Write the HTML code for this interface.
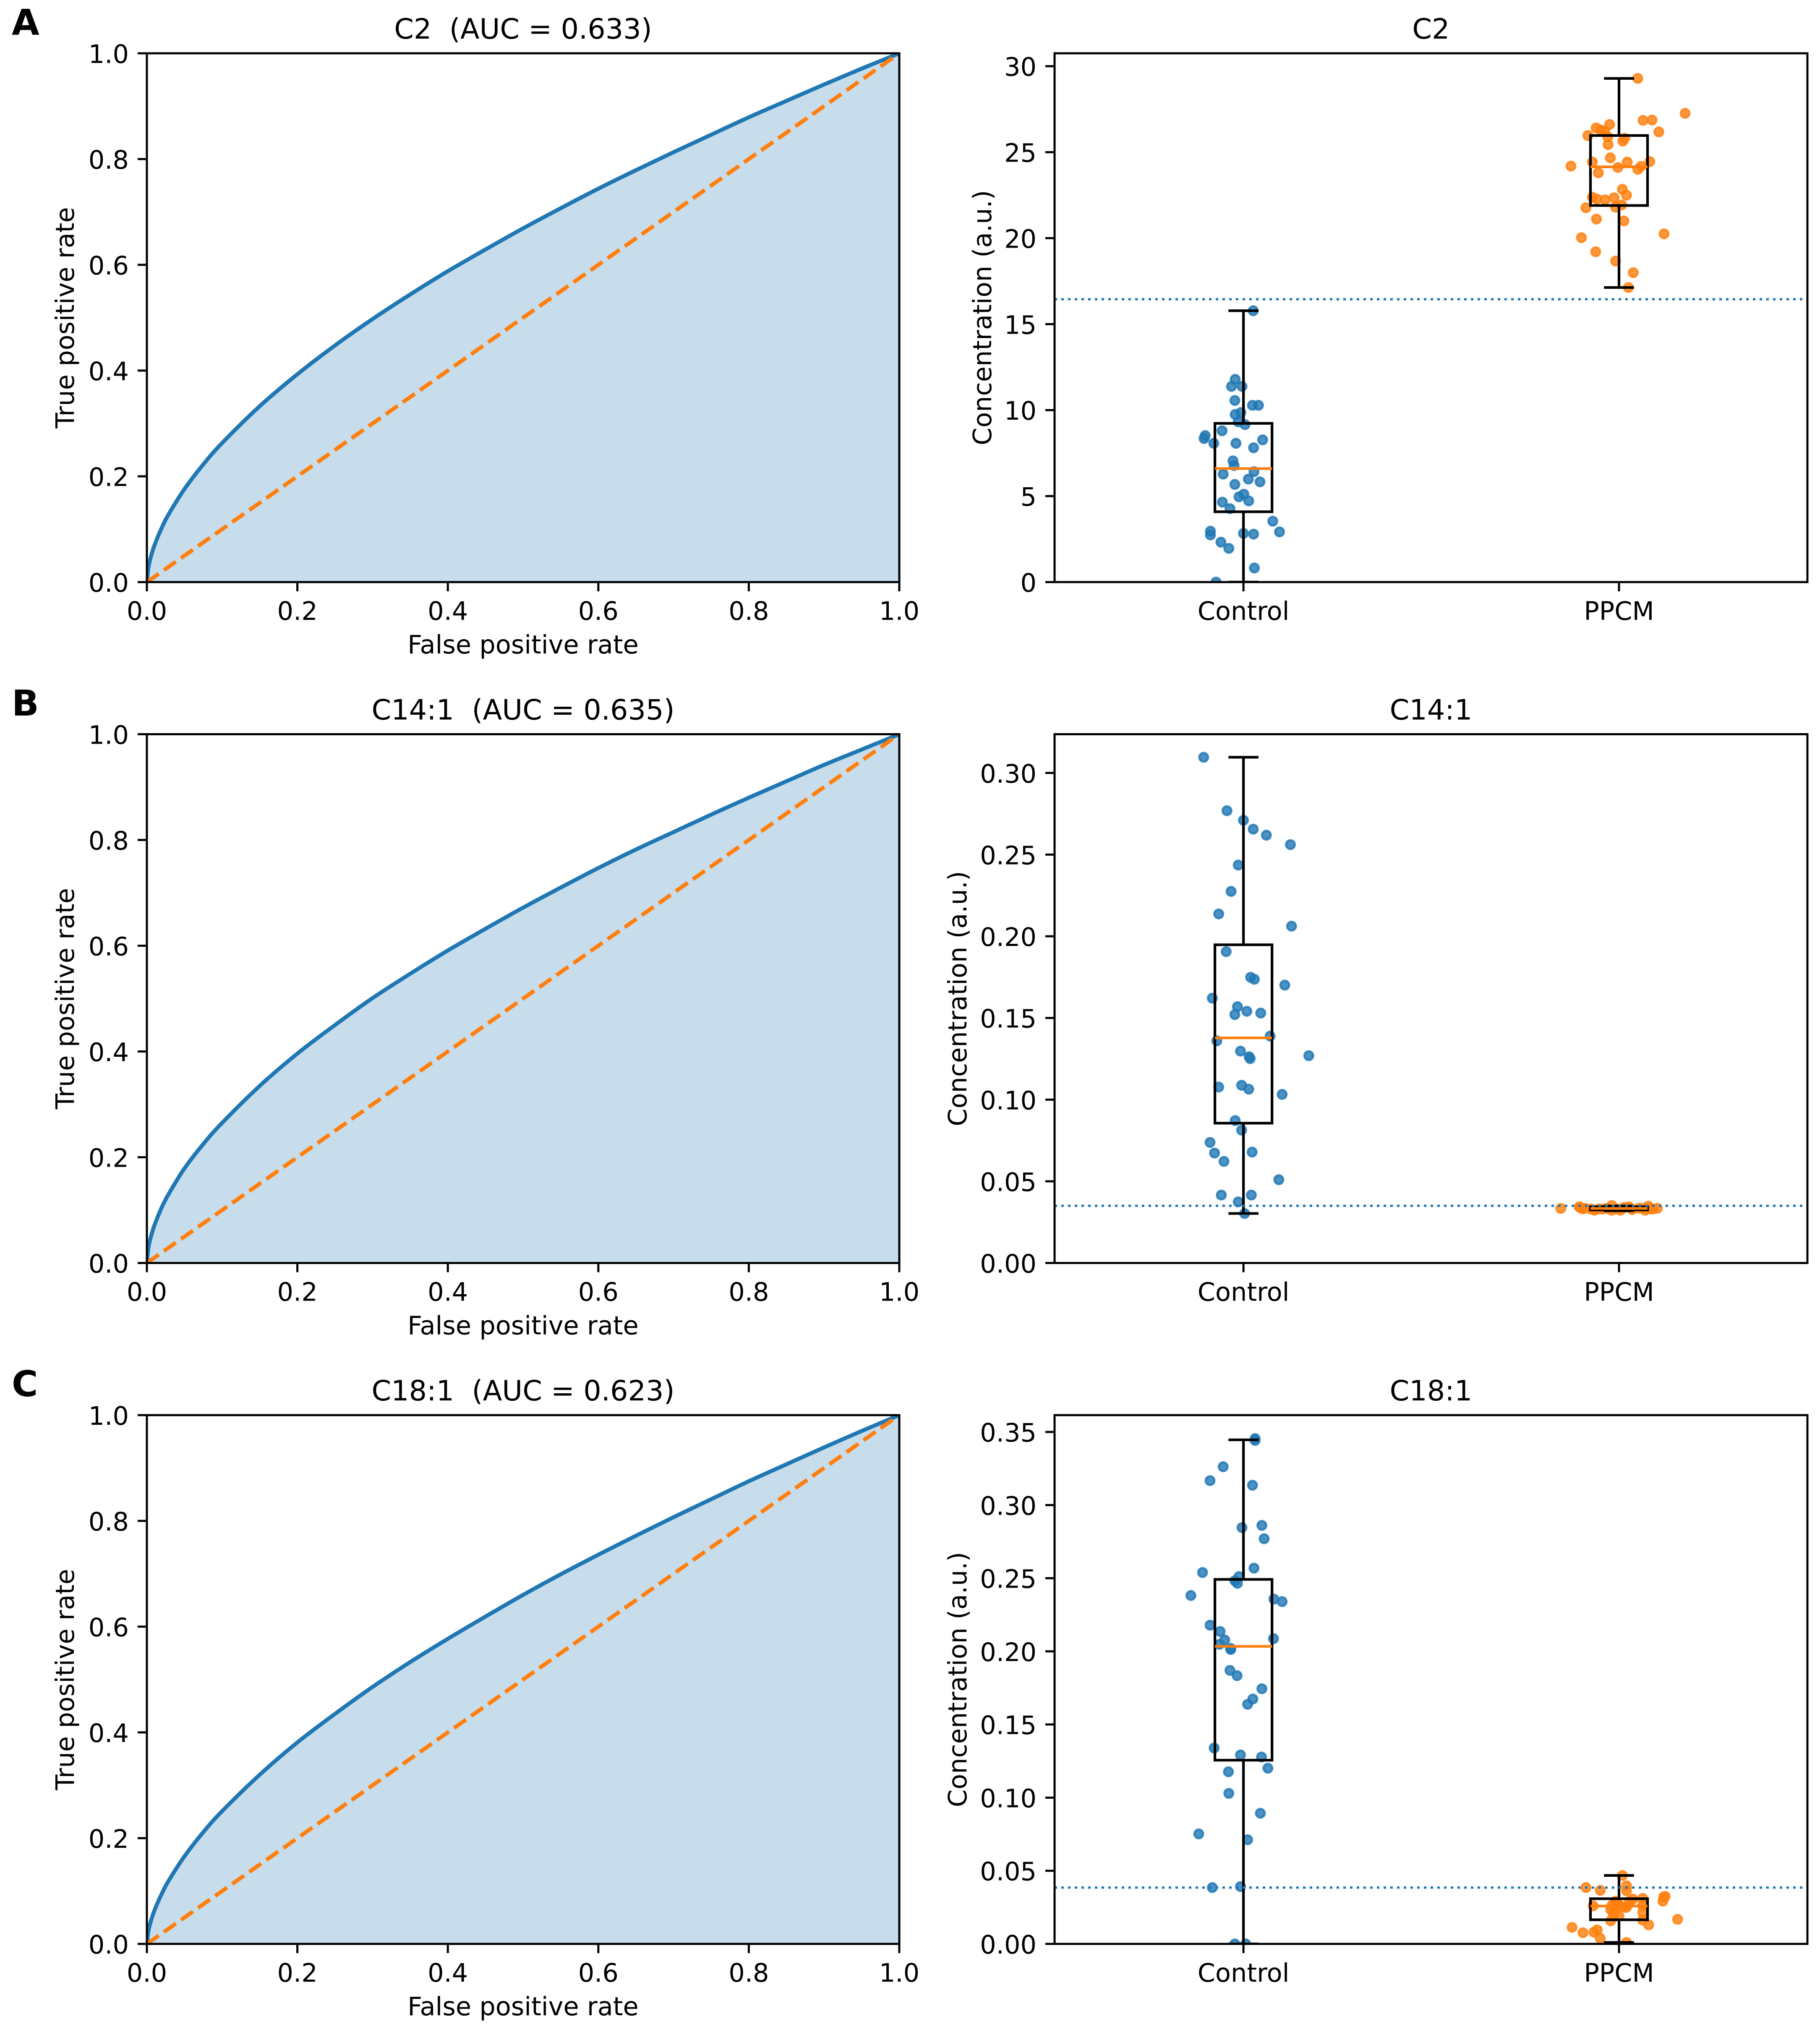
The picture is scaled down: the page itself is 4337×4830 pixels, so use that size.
<!DOCTYPE html>
<html lang="en">
<head>
<meta charset="utf-8">
<title>ROC curves and concentration box plots</title>
<style>
html,body{margin:0;padding:0;background:#fff;}
svg{display:block;}
text{font-family:"DejaVu Sans","Liberation Sans",sans-serif;fill:#000;white-space:pre;}
</style>
</head>
<body>
<svg id="figure" xmlns="http://www.w3.org/2000/svg" width="4337" height="4830" viewBox="0 0 4337 4830">
<rect x="0" y="0" width="4337" height="4830" fill="#fff"/>
<text x="28" y="83" font-size="85" font-weight="700">A</text>
<text x="28" y="1705" font-size="85" font-weight="700">B</text>
<text x="28" y="3327" font-size="85" font-weight="700">C</text>
</svg>
<script>
// ---- ROC values ----
const rocFpr = [0,.002,.005,.01,.02,.03,.05,.075,.1,.15,.2,.25,.3,.35,.4,.45,.5,.55,.6,.65,.7,.75,.8,.85,.9,.95,1];
const rocTprC2 = [0,.0272,.0463,.0692,.1034,.1308,.176,.2226,.263,.3327,.393,.4475,.4975,.544,.588,.629,.669,.707,.744,.779,.813,.846,.879,.91,.941,.971,1];
const rocTprC14 = [0,.0285,.048,.071,.106,.133,.179,.225,.265,.335,.396,.45,.501,.547,.591,.632,.672,.71,.747,.782,.815,.848,.88,.911,.942,.971,1];
const rocTprC18 = [0,.024,.0416,.063,.0956,.122,.1657,.2114,.251,.32,.381,.435,.486,.533,.577,.619,.66,.699,.736,.772,.807,.841,.875,.907,.939,.97,1];
const rocTickLabels = ["0.0","0.2","0.4","0.6","0.8","1.0"];
const categories = ["Control","PPCM"];

// ---- C2 concentrations ----
const c2ControlJitter = [.026,-.022,-.032,-.004,-.023,.024,.04,-.007,-.022,-.014,.004,-.057,-.102,-.105,-.079,-.02,.051,.027,-.028,-.025,.028,-.054,.013,.044,-.023,.001,-.012,.014,-.056,-.036,.078,.096,-.088,-.088,0,.027,-.06,-.039,.029,-.073];
const c2ControlValues = [15.78,11.79,11.38,11.38,10.56,10.28,10.28,9.86,9.75,9.32,9.16,8.8,8.52,8.35,8.07,8.07,8.27,7.81,7.05,6.78,6.42,6.28,5.99,5.83,5.68,5.11,4.96,4.72,4.65,4.27,3.54,2.92,2.96,2.74,2.83,2.79,2.32,1.96,.82,0];
const c2PpcmJitter = [.05,.176,.064,.088,-.025,-.061,-.048,-.038,.106,-.083,-.03,.015,.01,-.029,-.023,-.071,.022,.082,.059,-.128,-.003,.05,-.055,.009,.02,-.071,-.059,-.037,-.013,.007,-.088,-.009,-.06,.013,.12,-.1,-.062,-.009,.038,.025];
const c2PpcmValues = [29.29,27.26,26.85,26.87,26.61,26.41,26.29,26.24,26.18,25.97,25.89,25.81,25.64,25.44,24.67,24.43,24.43,24.45,24.18,24.19,24.11,24,23.8,22.84,22.5,22.38,22.28,22.23,22.35,21.93,21.77,21.8,21.11,21,20.25,20.03,19.21,18.67,17.99,17.13];
const c2ControlBox = [0,4.09,6.6,9.23,15.78];
const c2PpcmBox = [17.13,21.9,24.15,25.97,29.29];
const c2Threshold = 16.45;
const c2YMax = 30.75;
const c2TickLabels = ["0","5","10","15","20","25","30"];

// ---- C14:1 concentrations ----
const c14ControlJitter = [-.106,-.044,0,.026,.061,.125,-.014,-.033,-.066,.128,-.046,.019,.029,.11,-.083,-.016,.009,.046,-.023,.071,-.071,-.008,.015,.018,.174,-.066,-.005,.014,.103,-.022,-.005,-.089,-.077,.023,-.052,.094,-.059,.021,-.014,.003];
const c14ControlValues = [.3096,.2769,.271,.2656,.2619,.2561,.2436,.2275,.2137,.2062,.1906,.1749,.1737,.1701,.1621,.1569,.1541,.153,.1521,.1389,.136,.1297,.1263,.1251,.1269,.1077,.1088,.1064,.1032,.0872,.0813,.0738,.0673,.0679,.0622,.051,.0416,.0416,.0374,.0303];
const c14PpcmJitter = [-.155,-.106,-.104,-.097,-.091,-.076,-.066,-.054,-.043,-.032,-.02,-.019,-.007,.004,.013,.026,.035,.052,.063,.069,.078,.084,.091,.102];
const c14PpcmValues = [.0334,.0344,.034,.0331,.0335,.0331,.0323,.0331,.0331,.0335,.0323,.0352,.0331,.0323,.034,.0344,.0327,.0335,.0335,.0323,.0348,.0331,.0331,.0335];
const c14ControlBox = [.0303,.0856,.1378,.1948,.3096];
const c14PpcmBox = [.032,.0325,.0334,.0344,.0349];
const c14Threshold = .035;
const c14YMax = .3237;
const c14TickLabels = ["0.00","0.05","0.10","0.15","0.20","0.25","0.30"];

// ---- C18:1 concentrations ----
const c18ControlJitter = [.031,.031,-.054,-.089,.024,-.004,.049,.055,.028,-.109,-.012,-.023,-.016,-.14,.081,.103,-.089,-.062,-.05,-.064,.08,-.034,-.034,-.036,-.017,.049,.025,.011,-.078,-.008,.048,.065,-.04,-.039,.045,-.119,.011,-.083,-.008,-.023,.006];
const c18ControlValues = [.3455,.3442,.3262,.3167,.3136,.2846,.2861,.277,.2569,.2539,.2511,.2483,.2465,.2382,.2357,.234,.2179,.2136,.2078,.2048,.2087,.202,.2013,.187,.1834,.1744,.1674,.1638,.1339,.1292,.1278,.1201,.1177,.1029,.0893,.0752,.0712,.0385,.0392,0,0];
const c18PpcmJitter = [.009,.02,.02,-.088,-.05,.037,.063,.119,.123,.117,-.069,-.019,-.002,.02,.019,.063,.063,-.022,-.013,-.015,0,-.022,.063,.079,.156,-.125,-.096,-.067,-.058,-.05,.02,.006,-.009,.028];
const c18PpcmValues = [.0468,.0397,.0363,.0385,.0366,.0306,.0311,.0321,.0325,.0292,.026,.0263,.0273,.0254,.0249,.0263,.0216,.0235,.0225,.0197,.0192,.0158,.0163,.013,.0168,.0113,.0077,.008,.0096,.0038,.001,.0254,.0292,.0292];
const c18ControlBox = [0,.1256,.2034,.2492,.3446];
const c18PpcmBox = [.001,.0165,.0259,.0309,.0468];
const c18Threshold = .0385;
const c18YMax = .3615;
const c18TickLabels = ["0.00","0.05","0.10","0.15","0.20","0.25","0.30","0.35"];

const NS = "http://www.w3.org/2000/svg";
const figure = document.getElementById("figure");
const PLOT_H = 1260, ROC_LEFT = 350, ROC_W = 1793, DIST_LEFT = 2513, DIST_W = 1794;
const FONT = 60.5, TITLE_FONT = 66.8, SPINE = 5, TICK = 22;
const X_MIN = 0.497, X_MAX = 2.5017;
const BLUE = "#1f77b4", ORANGE = "#ff7f0e";

function rowTop(row){ return 127 + row * 1622.5; }

function make(parent, tag, attrs){
  const node = document.createElementNS(NS, tag);
  for (const key in attrs) node.setAttribute(key, attrs[key]);
  parent.appendChild(node);
  return node;
}

function smoothPath(pts){
  let d = "M" + pts[0][0].toFixed(1) + " " + pts[0][1].toFixed(1);
  for (let i = 0; i < pts.length - 1; i++) {
    const p0 = pts[Math.max(i-1,0)], p1 = pts[i], p2 = pts[i+1], p3 = pts[Math.min(i+2,pts.length-1)];
    const c1x = p1[0] + (p2[0]-p0[0])/6, c1y = p1[1] + (p2[1]-p0[1])/6;
    const c2x = p2[0] - (p3[0]-p1[0])/6, c2y = p2[1] - (p3[1]-p1[1])/6;
    d += " C" + c1x.toFixed(1) + " " + c1y.toFixed(1) + " " + c2x.toFixed(1) + " " + c2y.toFixed(1) + " " + p2[0].toFixed(1) + " " + p2[1].toFixed(1);
  }
  return d;
}

function drawFrame(g, left, top, w, h){
  const frame = make(g, "rect", {x:left, y:top, width:w, height:h, fill:"none", stroke:"#000", "stroke-width":SPINE});
  
  
}

function drawYTick(g, left, y, label){
  const tick = make(g, "line", {x1:left-TICK, x2:left, y1:y, y2:y, stroke:"#000", "stroke-width":SPINE});
  
  
  const text = make(g, "text", {x:left-43, y:y+23, "font-size":FONT, "text-anchor":"end"});
  text.textContent = label;
  
  
}

function drawXTick(g, x, bottom, label){
  const tick = make(g, "line", {x1:x, x2:x, y1:bottom, y2:bottom+TICK, stroke:"#000", "stroke-width":SPINE});
  
  
  const text = make(g, "text", {x:x, y:bottom+90, "font-size":FONT, "text-anchor":"middle"});
  text.textContent = label;
  
  
}

function drawTitle(g, x, top, label){
  const text = make(g, "text", {x:x, y:top-35, "font-size":TITLE_FONT, "text-anchor":"middle"});
  text.textContent = label;
  
  
}

function drawYLabel(g, x, y, label){
  const text = make(g, "text", {x:x, y:y, "font-size":FONT, "text-anchor":"middle", transform:"rotate(-90 "+x+" "+y+")"});
  text.textContent = label;
  
  
}

function drawRocPanel(row, title, tpr){
  const top = rowTop(row), bottom = top + PLOT_H;
  const xScale = v => ROC_LEFT + v * ROC_W;
  const yScale = v => bottom - v * PLOT_H;

  const g = make(figure, "g", {});
  
  

  const clip = make(g, "clipPath", {id:"clip-roc-"+row});
  make(clip, "rect", {x:ROC_LEFT, y:top, width:ROC_W, height:PLOT_H});

  const curve = smoothPath(rocFpr.map((f,i) => [xScale(f), yScale(tpr[i])]));

  const area = make(g, "path", {d:curve+" L"+xScale(1)+" "+yScale(0)+" L"+xScale(0)+" "+yScale(0)+" Z", fill:BLUE, "fill-opacity":0.25, stroke:"none", "clip-path":"url(#clip-roc-"+row+")"});
  
  

  const line = make(g, "path", {d:curve, fill:"none", stroke:BLUE, "stroke-width":9.4, "clip-path":"url(#clip-roc-"+row+")"});
  
  

  const chance = make(g, "line", {x1:xScale(0), y1:yScale(0), x2:xScale(1), y2:yScale(1), stroke:ORANGE, "stroke-width":9.4, "stroke-dasharray":"34.7 15", "clip-path":"url(#clip-roc-"+row+")"});
  
  

  rocTickLabels.forEach(label => {
    drawYTick(g, ROC_LEFT, yScale(Number(label)), label);
    drawXTick(g, xScale(Number(label)), bottom, label);
  });
  drawFrame(g, ROC_LEFT, top, ROC_W, PLOT_H);
  drawTitle(g, ROC_LEFT + ROC_W/2, top, title);
  drawYLabel(g, 176, top + PLOT_H/2, "True positive rate");
  const xTitle = make(g, "text", {x:ROC_LEFT + ROC_W/2, y:bottom+170, "font-size":FONT, "text-anchor":"middle"});
  xTitle.textContent = "False positive rate";
  
  
}

function drawPoints(g, center, jitter, values, color, xScale, yScale, clipId){
  values.forEach((v,i) => {
    const dot = make(g, "circle", {cx:xScale(center + jitter[i]).toFixed(1), cy:yScale(v).toFixed(1), r:10.5, fill:color, "fill-opacity":0.8, stroke:color, "stroke-opacity":0.8, "stroke-width":5, "clip-path":"url(#"+clipId+")"});
    
    
  });
}

function drawBox(g, center, stats, xScale, yScale, clipId){
  const [low, q1, median, q3, high] = stats;
  const boxL = xScale(center - 0.076), boxR = xScale(center + 0.076);
  const capL = xScale(center - 0.04), capR = xScale(center + 0.04);
  const box = make(g, "g", {fill:"none", stroke:"#000", "stroke-width":6.25, "clip-path":"url(#"+clipId+")"});
  
  

  const whiskerLow = make(box, "line", {x1:xScale(center), x2:xScale(center), y1:yScale(low), y2:yScale(q1)});
  
  
  const whiskerHigh = make(box, "line", {x1:xScale(center), x2:xScale(center), y1:yScale(q3), y2:yScale(high)});
  
  
  const capLow = make(box, "line", {x1:capL, x2:capR, y1:yScale(low), y2:yScale(low)});
  
  
  const capHigh = make(box, "line", {x1:capL, x2:capR, y1:yScale(high), y2:yScale(high)});
  
  
  const rect = make(box, "rect", {x:boxL, y:yScale(q3), width:boxR-boxL, height:yScale(q1)-yScale(q3)});
  
  
  const med = make(box, "line", {x1:boxL, x2:boxR, y1:yScale(median), y2:yScale(median), stroke:ORANGE});
  
  
}

function drawDistPanel(row, title, yMax, tickLabels, threshold, controlJitter, controlValues, controlBox, ppcmJitter, ppcmValues, ppcmBox, yTitleX){
  const top = rowTop(row), bottom = top + PLOT_H;
  const xScale = v => DIST_LEFT + (v - X_MIN) / (X_MAX - X_MIN) * DIST_W;
  const yScale = v => bottom - v / yMax * PLOT_H;
  const clipId = "clip-dist-" + row;

  const g = make(figure, "g", {});
  
  

  const clip = make(g, "clipPath", {id:clipId});
  make(clip, "rect", {x:DIST_LEFT, y:top, width:DIST_W, height:PLOT_H});

  drawPoints(g, 1, controlJitter, controlValues, BLUE, xScale, yScale, clipId);
  drawPoints(g, 2, ppcmJitter, ppcmValues, ORANGE, xScale, yScale, clipId);
  drawBox(g, 1, controlBox, xScale, yScale, clipId);
  drawBox(g, 2, ppcmBox, xScale, yScale, clipId);

  const cut = make(g, "line", {x1:DIST_LEFT, x2:DIST_LEFT+DIST_W, y1:yScale(threshold), y2:yScale(threshold), stroke:BLUE, "stroke-width":5.5, "stroke-dasharray":"6 10"});
  
  

  tickLabels.forEach(label => drawYTick(g, DIST_LEFT, yScale(Number(label)), label));
  categories.forEach((label,i) => drawXTick(g, xScale(i+1), bottom, label));
  drawFrame(g, DIST_LEFT, top, DIST_W, PLOT_H);
  drawTitle(g, DIST_LEFT + DIST_W/2, top, title);
  drawYLabel(g, yTitleX, top + PLOT_H/2, "Concentration (a.u.)");
}

drawRocPanel(0, "C2  (AUC = 0.633)", rocTprC2);
drawRocPanel(1, "C14:1  (AUC = 0.635)", rocTprC14);
drawRocPanel(2, "C18:1  (AUC = 0.623)", rocTprC18);
drawDistPanel(0, "C2", c2YMax, c2TickLabels, c2Threshold, c2ControlJitter, c2ControlValues, c2ControlBox, c2PpcmJitter, c2PpcmValues, c2PpcmBox, 2362);
drawDistPanel(1, "C14:1", c14YMax, c14TickLabels, c14Threshold, c14ControlJitter, c14ControlValues, c14ControlBox, c14PpcmJitter, c14PpcmValues, c14PpcmBox, 2303);
drawDistPanel(2, "C18:1", c18YMax, c18TickLabels, c18Threshold, c18ControlJitter, c18ControlValues, c18ControlBox, c18PpcmJitter, c18PpcmValues, c18PpcmBox, 2303);
</script>
</body>
</html>
